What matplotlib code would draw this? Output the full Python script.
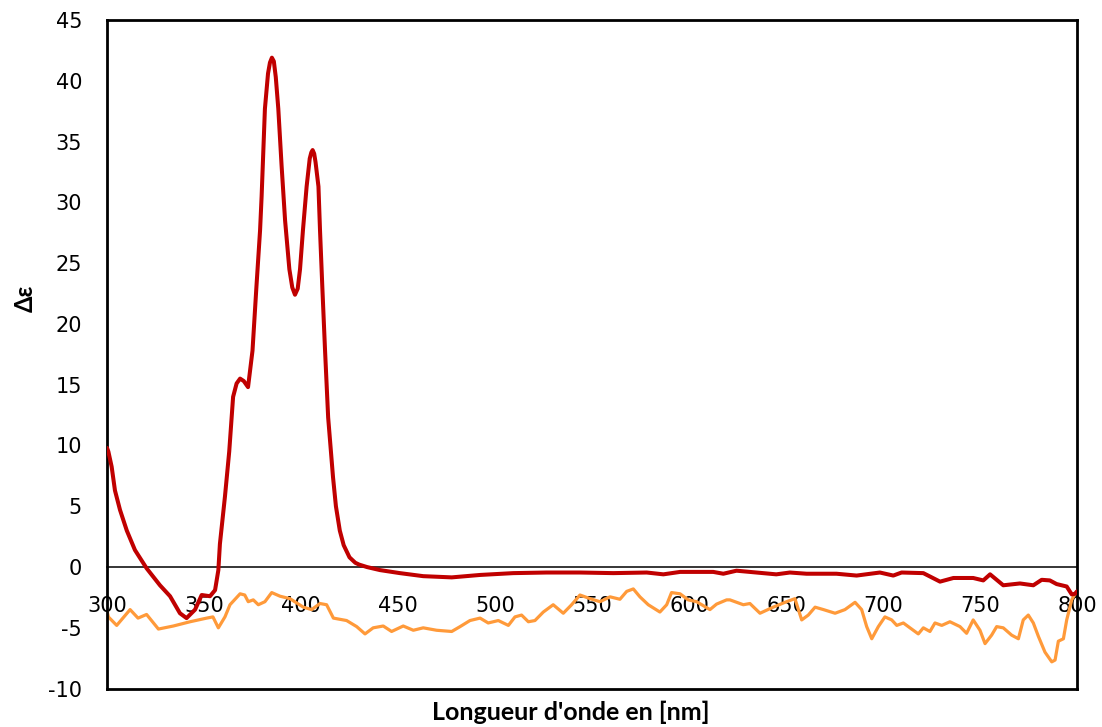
import matplotlib
matplotlib.use("Agg")
import matplotlib.pyplot as plt

# ---- data ----
red_x = [300, 300.7, 302.4, 304.1, 306.7, 310.2, 314.4, 320.4, 327.3, 332.5, 337.6, 341,
         345.4, 348.8, 353.1, 355.7, 357.4, 358.2, 360.8, 363, 365, 366.8, 368.6, 370.5,
         372.7, 375, 377, 378.9, 379.7, 381.4, 383, 384, 385, 386, 387, 388.3, 390, 391.8, 394,
         395.5, 396.9, 398.3, 399.5, 401, 402.9, 404.5, 405.3, 406, 406.8, 407.5, 409, 409.8,
         411, 412.4, 414, 416.5, 418, 420, 422, 425, 428, 430, 434, 440.7, 451, 463, 477.7,
         492.3, 509.4, 526.6, 543.8, 561,
         578.2, 586.8, 595.4, 612.5, 617.7, 624.5, 645, 652, 660.6, 676, 686.4, 698.4,
         705.3, 709.6, 720.8, 729.4, 736.3, 746.5, 751.7, 755.2, 762, 770.6, 777.5,
         781.8, 786, 789.5, 794.7, 797.3, 799, 800]
red_y = [9.8, 9.5, 8.25, 6.3, 4.7, 3.0, 1.4, -0.1, -1.5, -2.4, -3.8, -4.2,
         -3.5, -2.3, -2.4, -1.9, -0.25, 1.9, 5.8, 9.5, 14.0, 15.1, 15.5, 15.3,
         14.8, 17.8, 23.0, 27.7, 30.5, 37.7, 40.6, 41.5, 41.9, 41.6, 40.3, 37.7, 33.0, 28.5, 24.5,
         23.0, 22.4, 22.9, 24.5, 27.7, 31.3, 33.6, 34.1, 34.3, 34.0, 33.3, 31.3, 27.7,
         23.0, 17.8, 12.3, 7.4, 5.0, 3.0, 1.8, 0.8, 0.35, 0.2, 0.0, -0.25, -0.5, -0.75, -0.85,
         -0.65, -0.5, -0.45, -0.45, -0.5,
         -0.45, -0.6, -0.4, -0.4, -0.55, -0.3, -0.6, -0.45, -0.55, -0.55, -0.7, -0.45,
         -0.7, -0.45, -0.5, -1.2, -0.9, -0.9, -1.1, -0.6, -1.5, -1.35, -1.5,
         -1.05, -1.1, -1.4, -1.6, -2.25, -2.2, -2.0]

orange_x = [300, 300.7, 305, 311.9, 316, 320.4, 326.5, 334.2, 342.8, 351.4, 354.6, 357.4,
            360.8, 363.4, 368.6, 371, 372.8, 375.4, 378, 381.4, 384.9, 389.2, 394.3,
            401.2, 405.5, 409.8, 413.2, 416.7, 423.5, 428.7, 433, 437.2, 442.4, 446.7,
            452.7, 457.9, 463, 469.9, 477.7, 482, 487.1, 492.3, 496.5, 501.7, 506.9,
            510.3, 513.7, 517.2, 520.6, 524.9, 530, 535.2, 539.5, 543.8, 549, 554.1,
            559.3, 564.4, 567.9, 571.3, 574.7, 579, 585, 588.5, 591, 595.4, 599.6,
            603.9, 610.8, 614.2, 619.4, 621.1, 628, 631.4, 636.6, 643.4, 650.3, 654.6,
            658.1, 661.5, 665, 669.3, 675.3, 680.4, 685.6, 689, 691.6, 694.2, 697.6,
            701, 704.5, 707.1, 710.5, 713.9, 718.2, 720.8, 724.2, 726.8, 730.3, 734.5,
            739.7, 743.1, 746.5, 750, 752.6, 756, 758.6, 762, 766.3, 769.8, 772.3,
            774.9, 777.5, 780.1, 783.5, 787, 788.7, 790.4, 793, 794.7, 797.3, 799]
orange_y = [-3.6, -4.1, -4.8, -3.5, -4.2, -3.9, -5.1, -4.85, -4.5, -4.2, -4.1, -5.0,
            -4.1, -3.1, -2.2, -2.3, -2.85, -2.7, -3.1, -2.85, -2.1, -2.4, -2.6,
            -3.3, -3.5, -3.0, -3.1, -4.2, -4.4, -4.9, -5.5, -5.0, -4.85, -5.3,
            -4.85, -5.2, -5.0, -5.2, -5.3, -4.9, -4.4, -4.2, -4.6, -4.4, -4.8,
            -4.1, -3.95, -4.5, -4.4, -3.7, -3.1, -3.8, -3.1, -2.3, -2.6, -2.85,
            -2.45, -2.65, -2.0, -1.8, -2.45, -3.1, -3.7, -3.1, -2.1, -2.2, -2.7,
            -2.85, -3.5, -3.05, -2.7, -2.7, -3.1, -3.0, -3.8, -3.3, -2.85, -2.6,
            -4.35, -3.95, -3.3, -3.5, -3.8, -3.5, -2.9, -3.5, -4.9, -5.9, -4.9,
            -4.1, -4.35, -4.8, -4.6, -5.0, -5.5, -5.0, -5.3, -4.6, -4.8, -4.5,
            -4.9, -5.45, -4.35, -5.2, -6.3, -5.6, -4.9, -5.0, -5.6, -5.9, -4.35,
            -3.95, -4.6, -5.7, -7.0, -7.8, -7.65, -6.1, -5.9, -4.35, -2.7, -2.2]

x_ticks = [300, 350, 400, 450, 500, 550, 600, 650, 700, 750, 800]
y_ticks = [-10, -5, 0, 5, 10, 15, 20, 25, 30, 35, 40, 45]
x_label = "Longueur d'onde en [nm]"
y_label = "Δε"

# ---- figure ----
fig = plt.figure(figsize=(11.02, 7.27), dpi=100)
ax = fig.add_axes([0.0971, 0.0528, 0.8802, 0.9197])

ax.plot(red_x, red_y, color="#C00000", lw=2.9, solid_joinstyle="round",
        solid_capstyle="round", zorder=3)
ax.plot(orange_x, orange_y, color="#FF9A3A", lw=2.3, solid_joinstyle="round", zorder=2)

ax.set_xlim(300, 800)
ax.set_ylim(-10, 45)

for s in ax.spines.values():
    s.set_linewidth(2.0)
    s.set_color("black")

ax.set_yticks(y_ticks)
ax.set_yticklabels([str(v) for v in y_ticks], fontsize=15, family="DejaVu Sans")
ax.tick_params(axis="y", length=0, pad=18)
ax.set_xticks([])

# x axis crossing at y = 0
ylo, yhi = -10, 45
sec = ax.secondary_xaxis((0 - ylo) / (yhi - ylo))
sec.set_xticks(x_ticks)
sec.set_xticklabels([str(v) for v in x_ticks], fontsize=15, family="DejaVu Sans")
sec.tick_params(axis="x", length=0, pad=21)
sec.spines["bottom"].set_linewidth(1.1)
sec.spines["bottom"].set_color("black")

fig.text(0.518, 0.0205, x_label, ha="center", va="center", fontsize=18,
         fontweight="bold", family="Lato")
fig.text(0.023, 0.59, y_label, ha="center", va="center", fontsize=17,
         fontweight="bold", family="Lato", rotation=90)

fig.savefig("out.png", dpi=100)
